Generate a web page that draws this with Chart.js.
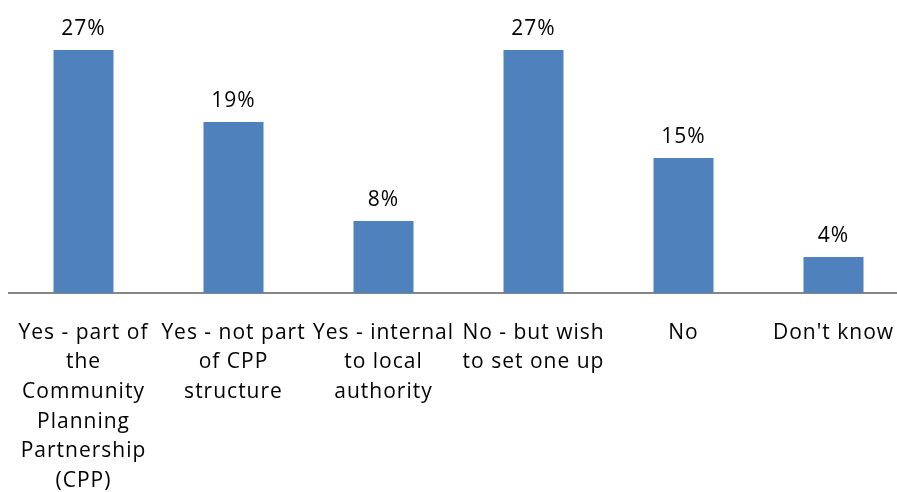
<!DOCTYPE html>
<html>
<head>
<meta charset="utf-8">
<script src="https://cdn.jsdelivr.net/npm/chart.js@4/dist/chart.umd.min.js"></script>
<style>
  html, body { margin: 0; padding: 0; background: #fff; overflow: hidden; }
  canvas { display: block; }
</style>
</head>
<body>
<canvas id="c" width="909" height="492" style="width:909px;height:492px"></canvas>
<script>
// Category labels, split into the lines they wrap onto under the axis
const categories = [
  ["Yes - part of", "the", "Community", "Planning", "Partnership", "(CPP)"],
  ["Yes - not part", "of CPP", "structure"],
  ["Yes - internal", "to local", "authority"],
  ["No - but wish", "to set one up"],
  ["No"],
  ["Don't know"]
];

// Share of responses, in percent
const shares = [27, 19, 8, 27, 15, 4];

const FONT = "'Open Sans', 'Liberation Sans', sans-serif";

// Slightly looser letter spacing for all text on the canvas
const spacing = {
  id: 'spacing',
  beforeDraw(chart) { chart.ctx.letterSpacing = '1px'; }
};

// Writes each bar's value above it
const valueLabels = {
  id: 'valueLabels',
  afterDatasetsDraw(chart) {
    const ctx = chart.ctx;
    const meta = chart.getDatasetMeta(0);
    ctx.save();
    ctx.font = `21px ${FONT}`;
    ctx.fillStyle = '#000';
    ctx.textAlign = 'center';
    ctx.textBaseline = 'middle';
    meta.data.forEach((bar, i) => {
      ctx.fillText(shares[i] + '%', bar.x, bar.y - 21);
    });
    ctx.restore();
  }
};

new Chart(document.getElementById('c'), {
  type: 'bar',
  data: {
    labels: categories,
    datasets: [{
      data: shares,
      backgroundColor: '#4F81BD',
      borderWidth: 0,
      categoryPercentage: 1,
      barPercentage: 0.4
    }]
  },
  options: {
    responsive: false,
    animation: false,
    devicePixelRatio: 1,
    layout: { padding: { left: 8.5, right: 0.5, top: 23, bottom: 0 } },
    plugins: { legend: { display: false }, tooltip: { enabled: false } },
    scales: {
      x: {
        grid: { display: false, drawTicks: false },
        border: { display: true, color: '#868686', width: 2 },
        ticks: {
          color: '#000',
          padding: 25,
          maxRotation: 0,
          autoSkip: false,
          font: { family: FONT, size: 21, lineHeight: 1.41 }
        },
        afterFit(scale) {
          // fixed label band; the categories fill the full width
          scale.height = 199;
          scale.paddingLeft = 0;
          scale.paddingRight = 0;
        }
      },
      y: {
        display: false,
        min: 0,
        max: 30
      }
    }
  },
  plugins: [spacing, valueLabels]
});
</script>
</body>
</html>
